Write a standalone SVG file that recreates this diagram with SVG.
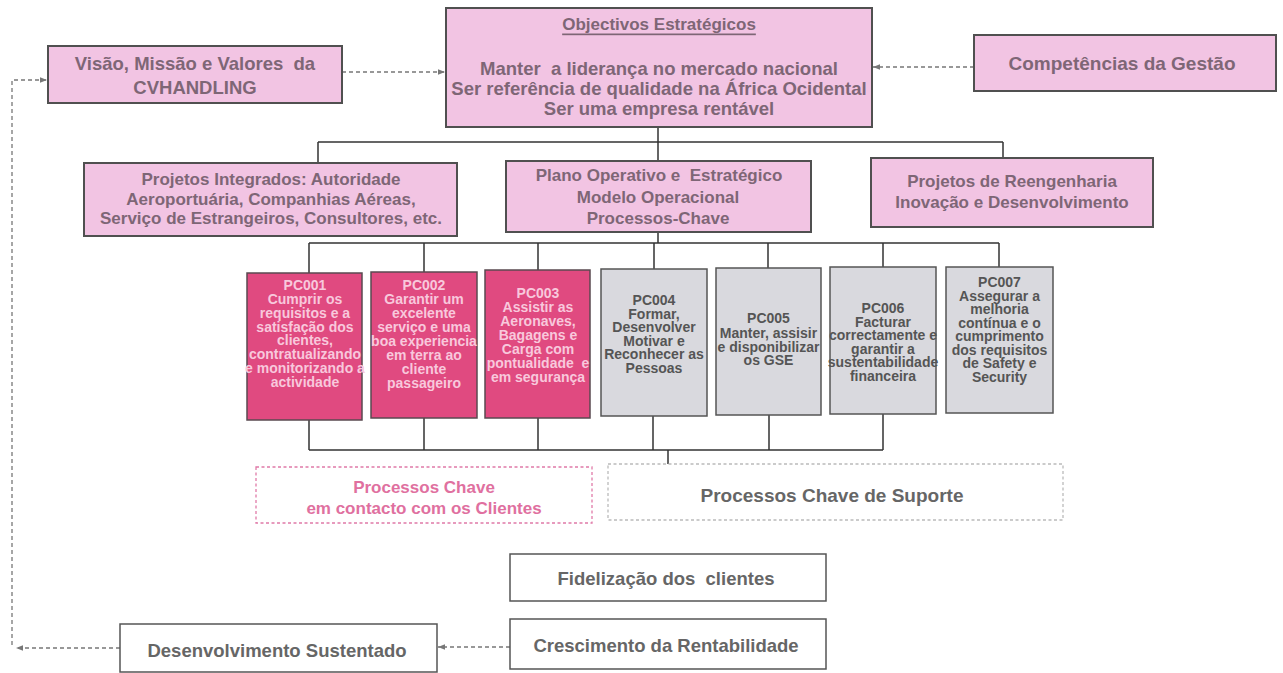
<svg xmlns="http://www.w3.org/2000/svg" width="1283" height="673" viewBox="0 0 1283 673">
<style>
  .pk{fill:#F2C4E3;stroke:#505050;stroke-width:2}
  .pc{fill:#E04A80;stroke:#5a4a50;stroke-width:1.5}
  .gr{fill:#D9D9DE;stroke:#555;stroke-width:1.5}
  .wb{fill:#fff;stroke:#555;stroke-width:1.5}
  .t{font-family:"Liberation Sans",Arial,sans-serif;font-weight:bold;text-anchor:middle;dominant-baseline:central}
  .tp{fill:#7E6676}
  .tpc{fill:#F8C8DC;font-size:14px}
  .tgc{fill:#555;font-size:14px}
  .tw{fill:#666}
  .ln{fill:none;stroke:#333;stroke-width:1.5}
  .da{fill:none;stroke:#777;stroke-width:1.3;stroke-dasharray:4 3}
</style>
<defs>
  <marker id="ah" viewBox="0 0 10 10" refX="10" refY="5" markerWidth="7" markerHeight="7" orient="auto" markerUnits="userSpaceOnUse">
    <path d="M0,1 L10,5 L0,9 Z" fill="#777"/>
  </marker>
</defs>
<rect width="1283" height="673" fill="#fff"/>

<g id="connectors">
  <path class="ln" d="M658,127 V142 M318,142 H1003 M318,142 V163 M658,142 V161 M1003,142 V158"/>
  <path class="ln" d="M658,232 V243 M309,243 H999 M309,243 V273 M424,243 V272 M538,243 V270 M654,243 V269 M768,243 V268 M883,243 V267 M999,243 V267"/>
  <path class="ln" d="M309,420 V450 M424,418 V450 M538,418 V450 M653,416 V450 M769,415 V450 M883,414 V450 M309,450 H883 M668,450 V464"/>
  <path class="da" d="M342,72 H445" marker-end="url(#ah)"/>
  <path class="da" d="M974,67 H873" marker-end="url(#ah)"/>
  <path class="da" d="M510,647 H438" marker-end="url(#ah)"/>
  <path class="da" d="M120,648 H16" marker-end="url(#ah)"/>
  <path class="da" d="M12,645 V80 H47" marker-end="url(#ah)"/>
</g>

<g id="visao">
  <rect class="pk" x="48" y="46" width="294" height="57"/>
  <text class="t tp" font-size="18.5" x="195" y="63" xml:space="preserve">Visão, Missão e Valores  da</text>
  <text class="t tp" font-size="18.5" x="195" y="87">CVHANDLING</text>
</g>

<g id="objectivos">
  <rect class="pk" x="446" y="8" width="426" height="119"/>
  <text class="t tp" font-size="17" x="659" y="24" text-decoration="underline">Objectivos Estratégicos</text>
  <text class="t tp" font-size="18.5" x="659" y="68" xml:space="preserve">Manter  a liderança no mercado nacional</text>
  <text class="t tp" font-size="18.5" x="659" y="88">Ser referência de qualidade na África Ocidental</text>
  <text class="t tp" font-size="18.5" x="659" y="108">Ser uma empresa rentável</text>
</g>

<g id="competencias">
  <rect class="pk" x="974" y="35" width="302" height="56"/>
  <text class="t tp" font-size="19" x="1122" y="63">Competências da Gestão</text>
</g>

<g id="projetos-integrados">
  <rect class="pk" x="84" y="163" width="373" height="73"/>
  <text class="t tp" font-size="17" x="271" y="179">Projetos Integrados: Autoridade</text>
  <text class="t tp" font-size="17" x="271" y="199">Aeroportuária, Companhias Aéreas,</text>
  <text class="t tp" font-size="17" x="271" y="218">Serviço de Estrangeiros, Consultores, etc.</text>
</g>

<g id="plano">
  <rect class="pk" x="506" y="161" width="305" height="71"/>
  <text class="t tp" font-size="17" x="659" y="175" xml:space="preserve">Plano Operativo e  Estratégico</text>
  <text class="t tp" font-size="17" x="658" y="197">Modelo Operacional</text>
  <text class="t tp" font-size="17" x="658" y="218">Processos-Chave</text>
</g>

<g id="reengenharia">
  <rect class="pk" x="871" y="158" width="282" height="69"/>
  <text class="t tp" font-size="17" x="1012" y="181">Projetos de Reengenharia</text>
  <text class="t tp" font-size="17" x="1012" y="202">Inovação e Desenvolvimento</text>
</g>

<g id="pc001">
  <rect class="pc" x="247" y="273" width="115" height="147"/>
  <text class="t tpc" x="305" y="285">PC001<tspan x="305" dy="14">Cumprir os</tspan><tspan x="305" dy="14">requisitos e a</tspan><tspan x="305" dy="13.5">satisfação dos</tspan><tspan x="305" dy="13.5">clientes,</tspan><tspan x="305" dy="14">contratualizando</tspan><tspan x="305" dy="14">e monitorizando a</tspan><tspan x="305" dy="14">actividade</tspan></text>
</g>

<g id="pc002">
  <rect class="pc" x="371" y="272" width="106" height="146"/>
  <text class="t tpc" x="424" y="285">PC002<tspan x="424" dy="14">Garantir um</tspan><tspan x="424" dy="14">excelente</tspan><tspan x="424" dy="14">serviço e uma</tspan><tspan x="424" dy="14">boa experiencia</tspan><tspan x="424" dy="14">em terra ao</tspan><tspan x="424" dy="14">cliente</tspan><tspan x="424" dy="14">passageiro</tspan></text>
</g>

<g id="pc003">
  <rect class="pc" x="485" y="270" width="105" height="148"/>
  <text class="t tpc" x="538" y="293" xml:space="preserve">PC003<tspan x="538" dy="14">Assistir as</tspan><tspan x="538" dy="14">Aeronaves,</tspan><tspan x="538" dy="14">Bagagens e</tspan><tspan x="538" dy="14">Carga com</tspan><tspan x="538" dy="14">pontualidade  e</tspan><tspan x="538" dy="14">em segurança</tspan></text>
</g>

<g id="pc004">
  <rect class="gr" x="601" y="269" width="106" height="147"/>
  <text class="t tgc" x="654" y="300">PC004<tspan x="654" dy="13.5">Formar,</tspan><tspan x="654" dy="13.5">Desenvolver</tspan><tspan x="654" dy="13.5">Motivar e</tspan><tspan x="654" dy="13.5">Reconhecer as</tspan><tspan x="654" dy="13.5">Pessoas</tspan></text>
</g>

<g id="pc005">
  <rect class="gr" x="716" y="268" width="105" height="147"/>
  <text class="t tgc" x="768.5" y="318">PC005<tspan x="768.5" dy="15">Manter, assisir</tspan><tspan x="768.5" dy="13.5">e disponibilizar</tspan><tspan x="768.5" dy="13.5">os GSE</tspan></text>
</g>

<g id="pc006">
  <rect class="gr" x="830" y="267" width="106" height="147"/>
  <text class="t tgc" x="883" y="308">PC006<tspan x="883" dy="13.5">Facturar</tspan><tspan x="883" dy="13.5">correctamente e</tspan><tspan x="883" dy="13.5">garantir a</tspan><tspan x="883" dy="13.5">sustentabilidade</tspan><tspan x="883" dy="13.5">financeira</tspan></text>
</g>

<g id="pc007">
  <rect class="gr" x="946" y="267" width="107" height="146"/>
  <text class="t tgc" x="999.5" y="282">PC007<tspan x="999.5" dy="13.5">Assegurar a</tspan><tspan x="999.5" dy="13.5">melhoria</tspan><tspan x="999.5" dy="13.5">contínua e o</tspan><tspan x="999.5" dy="13.5">cumprimento</tspan><tspan x="999.5" dy="13.5">dos requisitos</tspan><tspan x="999.5" dy="13.5">de Safety e</tspan><tspan x="999.5" dy="13.5">Security</tspan></text>
</g>

<g id="processos-clientes">
  <rect x="256" y="467" width="336" height="56" fill="#fff" stroke="#E07AA8" stroke-width="1.3" stroke-dasharray="3 2.5"/>
  <text class="t" font-size="17" fill="#E0709F" x="424" y="487">Processos Chave</text>
  <text class="t" font-size="17" fill="#E0709F" x="424" y="508">em contacto com os Clientes</text>
</g>

<g id="processos-suporte">
  <rect x="608" y="464" width="455" height="56" fill="#fff" stroke="#bbb" stroke-width="1.3" stroke-dasharray="3 2.5"/>
  <text class="t tw" font-size="19" x="832" y="495">Processos Chave de Suporte</text>
</g>

<g id="fidelizacao">
  <rect class="wb" x="510" y="554" width="316" height="47"/>
  <text class="t tw" font-size="18.5" x="666" y="578" xml:space="preserve">Fidelização dos  clientes</text>
</g>

<g id="crescimento">
  <rect class="wb" x="510" y="619" width="316" height="50"/>
  <text class="t tw" font-size="18.5" x="666" y="645">Crescimento da Rentabilidade</text>
</g>

<g id="desenvolvimento">
  <rect class="wb" x="120" y="624" width="317" height="48"/>
  <text class="t tw" font-size="18.5" x="277" y="650">Desenvolvimento Sustentado</text>
</g>
</svg>
